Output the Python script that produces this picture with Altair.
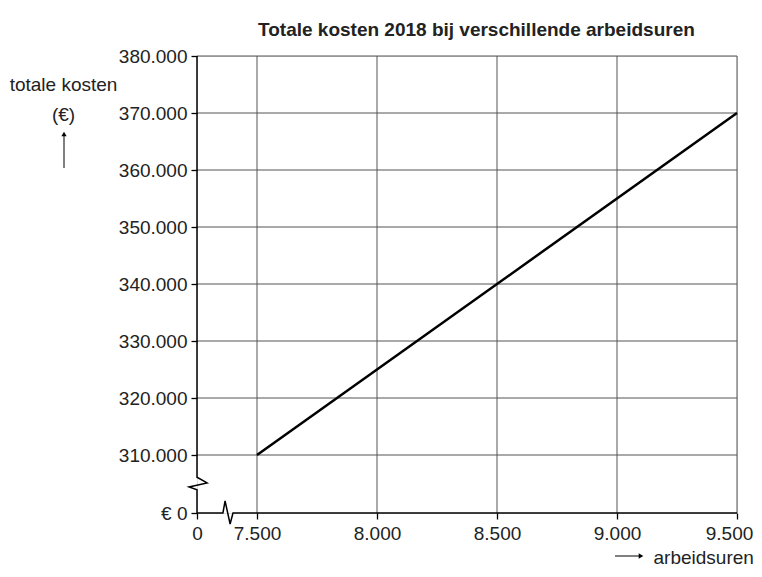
import altair as alt
import pandas as pd

# data
uren = [7500, 9500]
kosten = [310000, 370000]

x_ticks = [7250, 7500, 8000, 8500, 9000, 9500]
y_ticks = [299825, 310000, 320000, 330000, 340000, 350000, 360000, 370000, 380000]
x_grid = [7500, 8000, 8500, 9000, 9500]
y_grid = [310000, 320000, 330000, 340000, 350000, 360000, 370000, 380000]

X0, X1 = 7250, 9500
Y0, Y1 = 299825, 380000

# axis lines with break symbols (data units)
yaxis_x = [7250, 7250, 7292, 7217, 7250, 7250]
yaxis_y = [380000, 306100, 305100, 304400, 303900, 299825]
xaxis_x = [7250, 7358, 7367, 7388, 7400, 9500]
xaxis_y = [299825, 299825, 301930, 297895, 299825, 299825]

TITLE = "Totale kosten 2018 bij verschillende arbeidsuren"
FONT = "Liberation Sans, Arial, Helvetica, sans-serif"
FS = 19

line_df = pd.DataFrame({"uren": uren, "kosten": kosten})
axes_df = pd.DataFrame({
    "x": yaxis_x + xaxis_x,
    "y": yaxis_y + xaxis_y,
    "seg": ["y"] * len(yaxis_x) + ["x"] * len(xaxis_x),
    "ord": list(range(len(yaxis_x))) + list(range(len(xaxis_x))),
})
vgrid_df = pd.DataFrame({"x": x_grid, "y": [Y1] * len(x_grid), "y2": [Y0] * len(x_grid)})
hgrid_df = pd.DataFrame({"y": y_grid, "x": [X0] * len(y_grid), "x2": [X1] * len(y_grid)})
title_df = pd.DataFrame({"t": [TITLE]})

xscale = alt.Scale(domain=[X0, X1], zero=False, nice=False)
yscale = alt.Scale(domain=[Y0, Y1], zero=False, nice=False)

x_label = "datum.value < 7300 ? '0' : replace(format(datum.value, ','), ',', '.')"
y_label = "datum.value < 300000 ? '€ 0' : replace(format(datum.value, ','), ',', '.')"

xaxis = alt.Axis(values=x_ticks, labelExpr=x_label, grid=False, domain=False,
                 tickColor="black", tickSize=6, tickWidth=1.3, labelFontSize=FS,
                 labelFont=FONT, labelColor="#222", labelPadding=5,
                 labelOffset={"condition": {"test": "datum.value > 9400", "value": -8}, "value": 0},
                 title="arbeidsuren", titleFont=FONT, titleFontSize=FS,
                 titleFontWeight="normal", titleColor="#222", titleAlign="left",
                 titleX=456, titleY=50, titleBaseline="alphabetic", labelFlush=False)
yaxis = alt.Axis(values=y_ticks, labelExpr=y_label, grid=False, domain=False,
                 tickColor="black", tickSize=6, tickWidth=1.3, labelFontSize=FS,
                 labelFont=FONT, labelColor="#222", labelPadding=4,
                 title=["totale kosten", "(€)"], titleFont=FONT, titleFontSize=FS,
                 titleFontWeight="normal", titleColor="#222", titleAngle=0,
                 titleAlign="center", titleX=-134, titleY=34, titleLineHeight=30,
                 titleBaseline="alphabetic", labelFlush=False)

vgrid = alt.Chart(vgrid_df).mark_rule(color="#555", strokeWidth=1).encode(
    x=alt.X("x:Q", scale=xscale, axis=xaxis), y=alt.Y("y:Q", scale=yscale, axis=yaxis), y2="y2:Q")
hgrid = alt.Chart(hgrid_df).mark_rule(color="#555", strokeWidth=1).encode(
    y=alt.Y("y:Q", scale=yscale), x=alt.X("x:Q", scale=xscale), x2="x2:Q")

axlines = alt.Chart(axes_df).mark_line(color="black", strokeWidth=1.5).encode(
    x=alt.X("x:Q", scale=xscale), y=alt.Y("y:Q", scale=yscale),
    detail="seg:N", order="ord:Q")

main = alt.Chart(line_df).mark_line(color="black", strokeWidth=2.5).encode(
    x=alt.X("uren:Q", scale=xscale), y=alt.Y("kosten:Q", scale=yscale))

title = alt.Chart(title_df).mark_text(font=FONT, fontSize=FS, fontWeight="bold", color="#222",
                                      align="left", baseline="alphabetic").encode(
    text="t:N", x=alt.value(61), y=alt.value(-20))

# arrows next to axis titles
one = line_df.head(1)
yarrow = alt.Chart(one).mark_rule(color="black", strokeWidth=1).encode(
    x=alt.value(-133), y=alt.value(78), y2=alt.value(112))
yhead = alt.Chart(one).mark_point(shape="triangle-up", filled=True, color="black", size=28, opacity=1).encode(
    x=alt.value(-133), y=alt.value(78))
xarrow = alt.Chart(one).mark_rule(color="black", strokeWidth=1).encode(
    x=alt.value(418), x2=alt.value(444), y=alt.value(500))
xhead = alt.Chart(one).mark_point(shape="triangle-right", filled=True, color="black", size=28, opacity=1).encode(
    x=alt.value(444), y=alt.value(500))

chart = alt.layer(vgrid, hgrid, axlines, main, title, yarrow, yhead, xarrow, xhead).properties(
    width=540, height=457,
    padding={"left": 189, "top": 48, "right": 17, "bottom": 56},
    autosize=alt.AutoSizeParams(type="none"),
).configure_view(stroke=None).configure(background="white")

chart.save("out.html", embed_options={"renderer": "svg", "actions": False})
